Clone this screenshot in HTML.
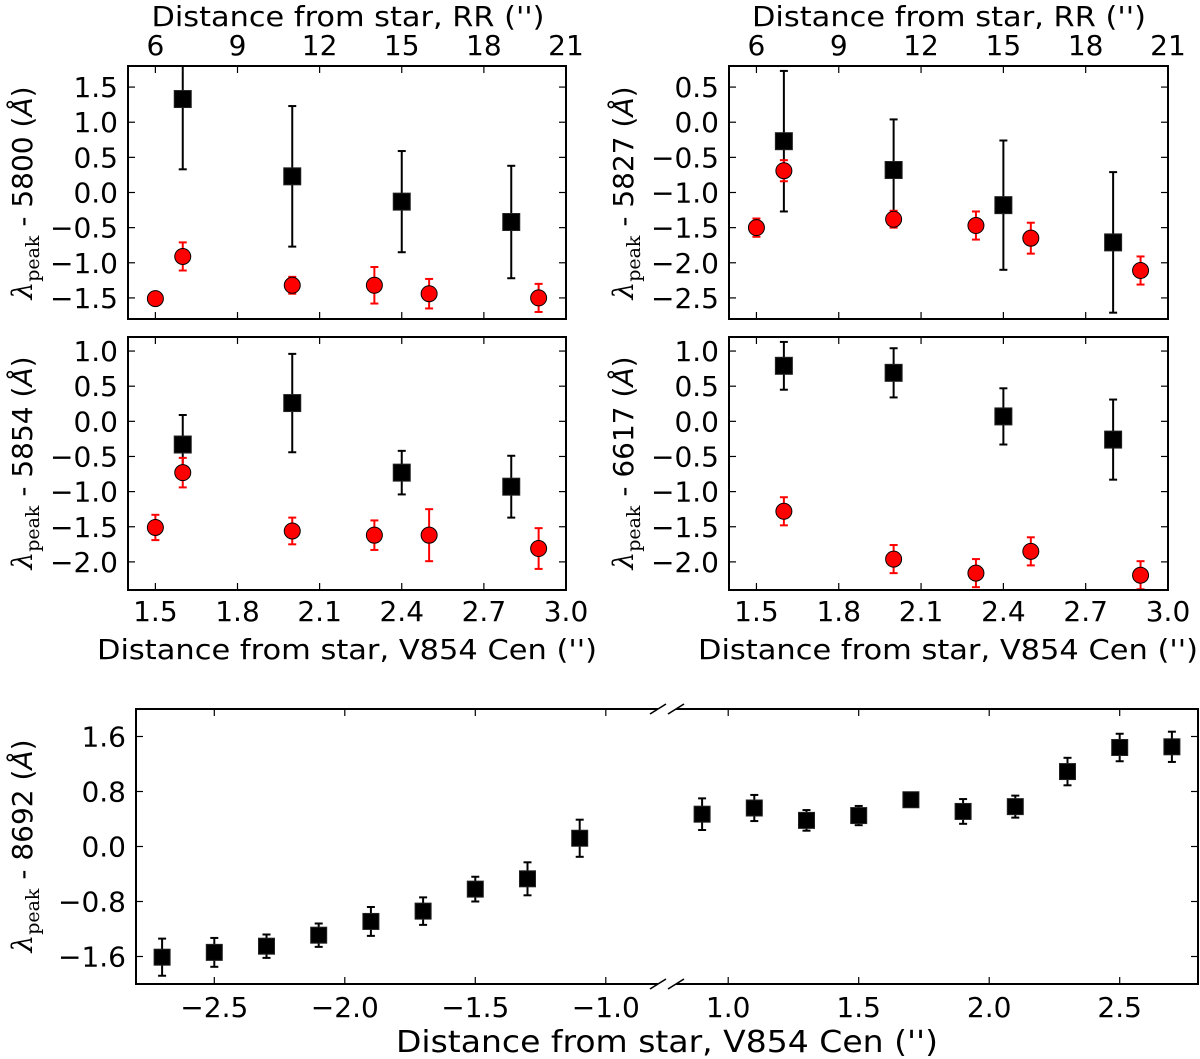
<!DOCTYPE html>
<html><head><meta charset="utf-8"><title>Peak wavelength vs distance</title>
<style>
html,body{margin:0;padding:0;background:#fff;}
svg{display:block;}
text{font-family:"DejaVu Sans","Liberation Sans",sans-serif;fill:#000;}
</style></head>
<body>
<svg id="fig" xmlns="http://www.w3.org/2000/svg" width="1200" height="1059" viewBox="0 0 1200 1059"></svg>
<script>
// ---------- data ----------
const xCat = [1.6, 2.0, 2.4, 2.8];           // black squares distances
const xRed = [1.5, 1.6, 2.0, 2.3, 2.5, 2.9];  // red circles distances

const l5800Black = [1.33, 0.23, -0.13, -0.42];
const l5800BlackErr = [1.0, 1.0, 0.72, 0.8];
const l5800Red = [-1.51, -0.91, -1.32, -1.32, -1.44, -1.50];
const l5800RedErr = [0.02, 0.2, 0.12, 0.26, 0.21, 0.2];

const l5827Black = [-0.27, -0.68, -1.18, -1.71];
const l5827BlackErr = [1.0, 0.72, 0.92, 1.0];
const l5827Red = [-1.50, -0.69, -1.38, -1.47, -1.65, -2.11];
const l5827RedErr = [0.13, 0.15, 0.12, 0.2, 0.22, 0.2];

const l5854Black = [-0.33, 0.26, -0.73, -0.93];
const l5854BlackErr = [0.42, 0.7, 0.31, 0.44];
const l5854Red = [-1.51, -0.73, -1.56, -1.62, -1.62, -1.81];
const l5854RedErr = [0.18, 0.21, 0.19, 0.21, 0.37, 0.29];

const l6617Black = [0.79, 0.69, 0.07, -0.26];
const l6617BlackErr = [0.34, 0.35, 0.4, 0.57];
const l6617Red = [-1.28, -1.96, -2.16, -1.85, -2.19];
const l6617RedX = [1.6, 2.0, 2.3, 2.5, 2.9];
const l6617RedErr = [0.2, 0.2, 0.2, 0.2, 0.2];

const l8692X = [-2.7, -2.5, -2.3, -2.1, -1.9, -1.7, -1.5, -1.3, -1.1, 0.9, 1.1, 1.3, 1.5, 1.7, 1.9, 2.1, 2.3, 2.5, 2.7];
const l8692Y = [-1.61, -1.54, -1.45, -1.29, -1.09, -0.94, -0.62, -0.47, 0.12, 0.47, 0.56, 0.38, 0.45, 0.68, 0.51, 0.58, 1.09, 1.44, 1.45];
const l8692Err = [0.27, 0.21, 0.17, 0.17, 0.21, 0.2, 0.18, 0.24, 0.27, 0.23, 0.19, 0.15, 0.14, 0.1, 0.18, 0.16, 0.2, 0.2, 0.22];

const xTicksDist = [1.5, 1.8, 2.1, 2.4, 2.7, 3.0];
const xTicksRR = [6, 9, 12, 15, 18, 21];
const yTicks5800 = [-1.5, -1.0, -0.5, 0.0, 0.5, 1.0, 1.5];
const yTicks5827 = [-2.5, -2.0, -1.5, -1.0, -0.5, 0.0, 0.5];
const yTicksLower = [-2.0, -1.5, -1.0, -0.5, 0.0, 0.5, 1.0];
const yTicks8692 = [-1.6, -0.8, 0.0, 0.8, 1.6];
const xTicksNeg = [-2.5, -2.0, -1.5, -1.0];
const xTicksPos = [1.0, 1.5, 2.0, 2.5];

// ---------- helpers ----------
const NS = "http://www.w3.org/2000/svg";
const svg = document.getElementById("fig");
function mk(tag, attrs, parent) {
  const e = document.createElementNS(NS, tag);
  for (const k in attrs) e.setAttribute(k, attrs[k]);
  (parent || svg).appendChild(e);
  return e;
}
function fmt(v, d) { const s = v.toFixed(d); return v < 0 ? "\u2212" + s.slice(1) : s; }
function scale(d0, d1, r0, r1) { return v => r0 + (v - d0) / (d1 - d0) * (r1 - r0); }
let clipId = 0;

function errorbar(g, sx, sy, xs, ys, es, color, capW) {
  for (let i = 0; i < xs.length; i++) {
    const x = sx(xs[i]), y1 = sy(ys[i] + es[i]), y2 = sy(ys[i] - es[i]);
    const eb = mk("g", {}, g);
    
    
    mk("line", {x1: x, x2: x, y1: y1, y2: y2, stroke: color, "stroke-width": 2}, eb);
    mk("line", {x1: x - capW, x2: x + capW, y1: y1, y2: y1, stroke: color, "stroke-width": 2}, eb);
    mk("line", {x1: x - capW, x2: x + capW, y1: y2, y2: y2, stroke: color, "stroke-width": 2}, eb);
  }
}
function squares(g, sx, sy, xs, ys, size) {
  for (let i = 0; i < xs.length; i++) {
    const r = mk("rect", {x: sx(xs[i]) - size / 2, y: sy(ys[i]) - size / 2, width: size, height: size, fill: "#000", stroke: "#222", "stroke-width": 1}, g);
    
    
  }
}
function circles(g, sx, sy, xs, ys) {
  for (let i = 0; i < xs.length; i++) {
    const c = mk("circle", {cx: sx(xs[i]), cy: sy(ys[i]), r: 8, fill: "#ff0000", stroke: "#000", "stroke-width": 1}, g);
    
    
  }
}
function ylabel(x, y, num) {
  const t = mk("text", {transform: `translate(${x},${y}) rotate(-90)`, "text-anchor": "middle", "font-size": 28});
  
  
  const a = mk("tspan", {"font-family": "DejaVu Serif, serif", "font-style": "italic"}, t); a.textContent = "λ";
  const b = mk("tspan", {"font-family": "DejaVu Serif, serif", "font-size": 19, dy: 7}, t); b.textContent = "peak";
  const c = mk("tspan", {dy: -7}, t); c.textContent = " - " + num + " (";
  const d = mk("tspan", {"font-family": "DejaVu Sans, sans-serif", "font-style": "italic"}, t); d.textContent = "Å";
  const e = mk("tspan", {}, t); e.textContent = ")";
}
function label(txt, x, y, size, anchor, name, len) {
  const t = mk("text", {x: x, y: y, "font-size": size, "text-anchor": anchor || "middle"});
  if (len) { t.setAttribute("textLength", len); t.setAttribute("lengthAdjust", "spacingAndGlyphs"); }
  
  
  t.textContent = txt;
  return t;
}

function panel(opt) {
  const {x0, x1, y0, y1, ymin, ymax, yTicks, name} = opt;
  const g = mk("g", {});
  
  
  const sx = scale(1.4, 3.0, x0, x1), sy = scale(ymin, ymax, y1, y0);
  const tk = mk("g", {stroke: "#000", "stroke-width": 1.2}, g);
  xTicksDist.forEach(v => {
    mk("line", {x1: sx(v), x2: sx(v), y1: y1, y2: y1 - 7}, tk);
    mk("line", {x1: sx(v), x2: sx(v), y1: y0, y2: y0 + 7}, tk);
  });
  yTicks.forEach(v => {
    mk("line", {x1: x0, x2: x0 + 7, y1: sy(v), y2: sy(v)}, tk);
    mk("line", {x1: x1, x2: x1 - 7, y1: sy(v), y2: sy(v)}, tk);
    label(fmt(v, 1), x0 - 10, sy(v) + 10, 28, "end", "y-tick-label");
  });
  if (opt.bottomLabels) xTicksDist.forEach(v => label(fmt(v, 1), sx(v), 621, 28, "middle", "x-tick-label"));
  if (opt.topLabels) xTicksRR.forEach(v => label(String(v), sx((v + 9) / 10), 55, 28, "middle", "top-x-tick-label"));
  const cid = "c" + (clipId++);
  const cp = mk("clipPath", {id: cid}, g);
  mk("rect", {x: x0, y: y0, width: x1 - x0, height: y1 - y0}, cp);
  const dg = mk("g", {"clip-path": `url(#${cid})`}, g);
  errorbar(dg, sx, sy, xCat, opt.black, opt.blackErr, "#000", 4);
  squares(dg, sx, sy, xCat, opt.black, 17);
  errorbar(dg, sx, sy, opt.redX, opt.red, opt.redErr, "#ff0000", 4);
  circles(dg, sx, sy, opt.redX, opt.red);
  const fr = mk("rect", {x: x0, y: y0, width: x1 - x0, height: y1 - y0, fill: "none", stroke: "#000", "stroke-width": 2}, g);
  
  
}

panel({name: "panel-5800", x0: 128, x1: 566, y0: 66, y1: 319, ymin: -1.8, ymax: 1.8, yTicks: yTicks5800,
  black: l5800Black, blackErr: l5800BlackErr, redX: xRed, red: l5800Red, redErr: l5800RedErr, topLabels: true});
panel({name: "panel-5827", x0: 729, x1: 1168, y0: 66, y1: 319, ymin: -2.8, ymax: 0.8, yTicks: yTicks5827,
  black: l5827Black, blackErr: l5827BlackErr, redX: xRed, red: l5827Red, redErr: l5827RedErr, topLabels: true});
panel({name: "panel-5854", x0: 128, x1: 566, y0: 337, y1: 590, ymin: -2.4, ymax: 1.2, yTicks: yTicksLower,
  black: l5854Black, blackErr: l5854BlackErr, redX: xRed, red: l5854Red, redErr: l5854RedErr, bottomLabels: true});
panel({name: "panel-6617", x0: 729, x1: 1168, y0: 337, y1: 590, ymin: -2.4, ymax: 1.2, yTicks: yTicksLower,
  black: l6617Black, blackErr: l6617BlackErr, redX: l6617RedX, red: l6617Red, redErr: l6617RedErr, bottomLabels: true});

label("Distance from star, RR ('')", 348, 26, 28, "middle", "top-x-axis-title", 393);
label("Distance from star, RR ('')", 949, 26, 28, "middle", "top-x-axis-title", 394);
label("Distance from star, V854 Cen ('')", 347, 659, 28, "middle", "x-axis-title", 500);
label("Distance from star, V854 Cen ('')", 948, 659, 28, "middle", "x-axis-title", 500);
ylabel(32, 193, "5800");
ylabel(633, 193, "5827");
ylabel(32, 463, "5854");
ylabel(633, 463, "6617");

(function () {
  const g = mk("g", {});
  
  
  const y0 = 709, y1 = 984, L0 = 136, L1 = 658, R0 = 676, R1 = 1198;
  const sxL = scale(-2.8, -0.8, L0, L1), sxR = scale(0.8, 2.8, R0, R1);
  const sy = scale(-2.0, 2.0, y1, y0);
  const sx = v => v < 0 ? sxL(v) : sxR(v);
  const tk = mk("g", {stroke: "#000", "stroke-width": 1.2}, g);
  xTicksNeg.forEach(v => {
    mk("line", {x1: sxL(v), x2: sxL(v), y1: y1, y2: y1 - 7}, tk);
    mk("line", {x1: sxL(v), x2: sxL(v), y1: y0, y2: y0 + 7}, tk);
    label(fmt(v, 1), sxL(v), 1017, 28, "middle", "x-tick-label");
  });
  xTicksPos.forEach(v => {
    mk("line", {x1: sxR(v), x2: sxR(v), y1: y1, y2: y1 - 7}, tk);
    mk("line", {x1: sxR(v), x2: sxR(v), y1: y0, y2: y0 + 7}, tk);
    label(fmt(v, 1), sxR(v), 1017, 28, "middle", "x-tick-label");
  });
  yTicks8692.forEach(v => {
    mk("line", {x1: L0, x2: L0 + 7, y1: sy(v), y2: sy(v)}, tk);
    mk("line", {x1: R1, x2: R1 - 7, y1: sy(v), y2: sy(v)}, tk);
    label(fmt(v, 1), 126, sy(v) + 10, 28, "end", "y-tick-label");
  });
  const sp = mk("g", {stroke: "#000", "stroke-width": 2, fill: "none"}, g);
  
  
  mk("polyline", {points: `${L1},${y0} ${L0},${y0} ${L0},${y1} ${L1},${y1}`}, sp);
  mk("polyline", {points: `${R0},${y0} ${R1},${y0} ${R1},${y1} ${R0},${y1}`}, sp);
  const bk = mk("g", {stroke: "#000", "stroke-width": 1.6}, g);
  
  
  [y0, y1].forEach(y => {
    mk("line", {x1: L1 - 8, y1: y + 5, x2: L1 + 8, y2: y - 5}, bk);
    mk("line", {x1: R0 - 8, y1: y + 5, x2: R0 + 8, y2: y - 5}, bk);
  });
  const dg = mk("g", {}, g);
  errorbar(dg, sx, sy, l8692X, l8692Y, l8692Err, "#000", 4);
  squares(dg, sx, sy, l8692X, l8692Y, 16);
})();
label("Distance from star, V854 Cen ('')", 667, 1052, 30, "middle", "x-axis-title", 542);
ylabel(32, 846, "8692");
</script>
</body></html>
